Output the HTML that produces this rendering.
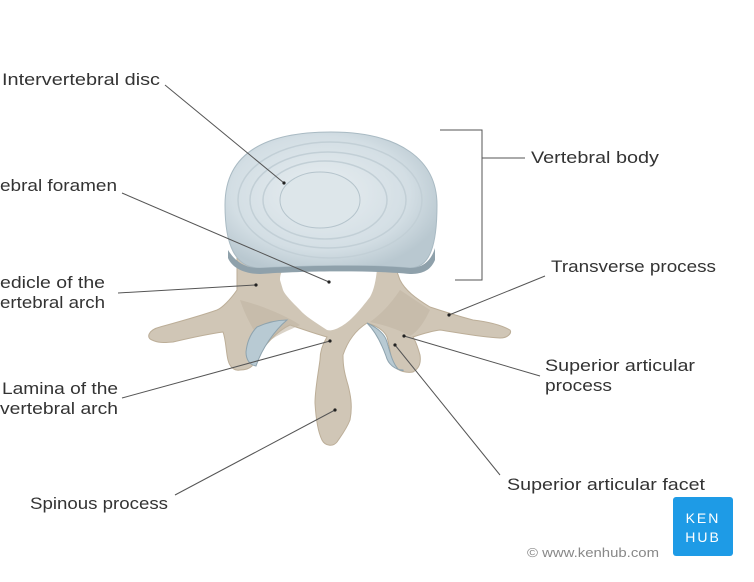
<!DOCTYPE html>
<html><head><meta charset="utf-8"><style>
html,body{margin:0;padding:0;background:#fff;}
svg{display:block;}
text{font-family:"Liberation Sans",sans-serif;font-size:17px;fill:#333;}
</style></head><body>
<svg width="754" height="582" viewBox="0 0 754 582" xmlns="http://www.w3.org/2000/svg">
<defs>
<radialGradient id="disc" cx="0.45" cy="0.45" r="0.6">
<stop offset="0" stop-color="#e8eef1"/><stop offset="0.7" stop-color="#d3dee4"/><stop offset="1" stop-color="#b9c8d0"/>
</radialGradient>
</defs>
<!-- bone -->
<path d="M237,258 L237,290 C230,300 222,308 217,310 C200,316 178,322 160,327 C148,330 146,338 152,340 C160,344 168,342 173,342 C190,338 208,334 223,332 C226,340 226,352 228,360 C230,368 235,371 240,370 C246,370 250,368 252,366 C262,348 275,332 290,325 C305,330 316,334 327,337 C322,345 320,352 320,360 C318,375 315,390 315,403 C316,420 318,432 322,440 C325,446 333,447 337,442 C341,436 346,430 350,420 C353,405 350,393 348,385 C344,372 343,365 343,355 C348,340 356,330 367,323 C377,326 384,330 387,337 C390,348 391,358 393,365 C398,372 408,373 413,372 C420,368 421,362 420,355 C418,348 415,340 413,337 C422,334 432,331 440,330 C460,333 480,337 500,338 C508,338 512,333 510,330 C503,326 490,322 473,320 C458,316 442,311 430,307 C415,298 405,290 400,280 L392,258 Z" fill="#d0c6b6" stroke="#bcae98" stroke-width="1"/>
<!-- shading -->
<path d="M240,300 C260,305 285,315 300,325 C290,330 275,335 265,345 C255,335 245,315 240,300 Z" fill="#c2b6a3" opacity="0.6"/>
<path d="M400,290 C390,305 380,315 370,322 C385,325 400,330 410,336 C420,330 425,320 430,310 Z" fill="#c2b6a3" opacity="0.6"/>
<!-- foramen -->
<path d="M280,280 C280,274 282,270 285,269 L377,269 C376,280 374,290 370,297 C360,310 350,322 340,327 C335,330 330,331 327,330 C315,322 305,316 300,310 C292,302 285,295 283,290 Z" fill="#fff"/>
<!-- facets -->
<path d="M257,327 C268,322 278,320 287,320 C275,330 262,348 256,366 C250,365 246,360 246,352 C247,342 251,333 257,327 Z" fill="#b8cad3" stroke="#8ea3ae"/>
<path d="M367,323 C378,328 385,334 387,342 C390,352 392,362 398,369 C401,371 404,371 403,370 C395,370 388,364 386,356 C382,345 376,332 367,323 Z" fill="#b8cad3" stroke="#8ea3ae"/>
<!-- disc -->
<path d="M225,205 C225,150 270,132 331,132 C400,132 437,160 437,205 C437,245 430,268 410,268 C370,264 300,266 260,268 C235,268 225,245 225,205 Z" fill="url(#disc)" stroke="#a9bac3"/>
<path d="M228,250 C238,266 250,268 260,268 C300,266 370,264 410,268 C425,268 432,258 435,248 L435,260 C430,272 420,274 410,274 C370,270 300,271 260,274 C245,274 232,268 228,258 Z" fill="#8fa1ab"/>
<g fill="none" stroke="#c2cfd6" stroke-width="1.5">
<ellipse cx="330" cy="200" rx="92" ry="58"/>
<ellipse cx="328" cy="200" rx="78" ry="48"/>
<ellipse cx="325" cy="200" rx="62" ry="39"/>
</g>
<ellipse cx="320" cy="200" rx="40" ry="28" fill="#dde6ea" stroke="#b5c4cc"/>
<!-- leader lines -->
<g stroke="#555" stroke-width="1" fill="none">
<line x1="165" y1="85" x2="284" y2="183"/>
<line x1="122" y1="193" x2="329" y2="282"/>
<line x1="118" y1="293" x2="256" y2="285"/>
<line x1="122" y1="398" x2="330" y2="341"/>
<line x1="175" y1="495" x2="335" y2="410"/>
<line x1="545" y1="276" x2="449" y2="315"/>
<line x1="540" y1="376" x2="404" y2="336"/>
<line x1="500" y1="475" x2="395" y2="345"/>
<polyline points="440,130 482,130 482,280 455,280"/>
<line x1="482" y1="158" x2="525" y2="158"/>
</g>
<g fill="#222">
<circle cx="284" cy="183" r="1.6"/><circle cx="329" cy="282" r="1.6"/><circle cx="256" cy="285" r="1.6"/>
<circle cx="330" cy="341" r="1.6"/><circle cx="335" cy="410" r="1.6"/><circle cx="449" cy="315" r="1.6"/>
<circle cx="404" cy="336" r="1.6"/><circle cx="395" cy="345" r="1.6"/>
</g>
<!-- labels -->
<text x="2" y="85" textLength="158" lengthAdjust="spacingAndGlyphs">Intervertebral disc</text>
<text x="0" y="191" textLength="117" lengthAdjust="spacingAndGlyphs">ebral foramen</text>
<text x="0" y="288" textLength="105" lengthAdjust="spacingAndGlyphs">edicle of the</text>
<text x="0" y="308" textLength="105" lengthAdjust="spacingAndGlyphs">ertebral arch</text>
<text x="2" y="394" textLength="116" lengthAdjust="spacingAndGlyphs">Lamina of the</text>
<text x="0" y="414" textLength="118" lengthAdjust="spacingAndGlyphs">vertebral arch</text>
<text x="30" y="509" textLength="138" lengthAdjust="spacingAndGlyphs">Spinous process</text>
<text x="531" y="163" textLength="128" lengthAdjust="spacingAndGlyphs">Vertebral body</text>
<text x="551" y="272" textLength="165" lengthAdjust="spacingAndGlyphs">Transverse process</text>
<text x="545" y="371" textLength="150" lengthAdjust="spacingAndGlyphs">Superior articular</text>
<text x="545" y="391" textLength="67" lengthAdjust="spacingAndGlyphs">process</text>
<text x="507" y="490" textLength="198" lengthAdjust="spacingAndGlyphs">Superior articular facet</text>
<text x="527" y="557" textLength="132" lengthAdjust="spacingAndGlyphs" style="font-size:13px;fill:#888;">© www.kenhub.com</text>
<rect x="673" y="497" width="60" height="59" rx="3" fill="#1e9be6"/>
<text x="703" y="523" text-anchor="middle" style="font-size:14px;fill:#fff;letter-spacing:2px;">KEN</text>
<text x="703" y="542" text-anchor="middle" style="font-size:14px;fill:#fff;letter-spacing:2px;">HUB</text>
</svg>
</body></html>
